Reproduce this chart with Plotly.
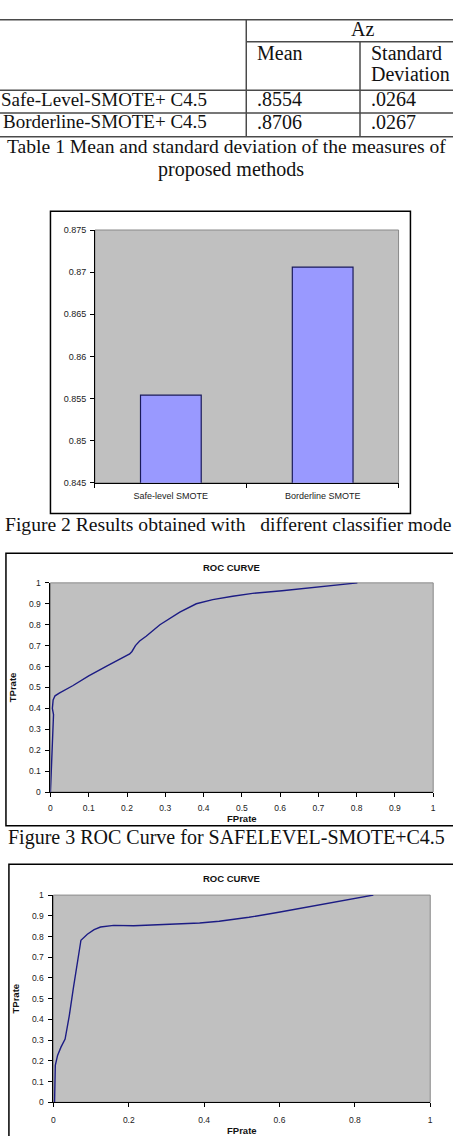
import plotly.graph_objects as go

W, H = 453, 1136

# ---------------- data ----------------
table_rows = ["Safe-Level-SMOTE+ C4.5", "Borderline-SMOTE+ C4.5"]
table_mean = [".8554", ".8706"]
table_std = [".0264", ".0267"]

bar_categories = ["Safe-level SMOTE", "Borderline SMOTE"]
bar_values = [0.8554, 0.8706]
bar_tickvals = [0.845, 0.85, 0.855, 0.86, 0.865, 0.87, 0.875]
bar_ticktext = ["0.845", "0.85", "0.855", "0.86", "0.865", "0.87", "0.875"]

roc1_fpr = [0.0, 0.003, 0.006, 0.008, 0.008, 0.005, 0.007, 0.012, 0.023, 0.058, 0.1, 0.148,
            0.191, 0.207, 0.213, 0.222, 0.233, 0.25, 0.286, 0.338, 0.381, 0.424, 0.476,
            0.528, 0.605, 0.7, 0.802]
roc1_tpr = [0.0, 0.12, 0.27, 0.3, 0.37, 0.4, 0.44, 0.46, 0.473, 0.508, 0.555, 0.603,
            0.646, 0.66, 0.672, 0.7, 0.722, 0.745, 0.8, 0.86, 0.9, 0.92, 0.936,
            0.95, 0.962, 0.98, 1.0]

roc2_fpr = [0.003, 0.005, 0.011, 0.02, 0.031, 0.042, 0.053, 0.062, 0.073, 0.09, 0.108,
            0.125, 0.16, 0.213, 0.3, 0.388, 0.44, 0.519, 0.598, 0.694, 0.79, 0.849]
roc2_tpr = [0.0, 0.178, 0.226, 0.266, 0.305, 0.417, 0.552, 0.663, 0.782, 0.811, 0.833,
            0.846, 0.854, 0.852, 0.858, 0.865, 0.874, 0.893, 0.917, 0.949, 0.979, 1.0]

# ---------------- helpers (layout only) ----------------
def px(x):
    return x / W

def py(y):
    return 1 - y / H

SERIF = "Liberation Serif, Times New Roman, serif"
SANS = "Liberation Sans, Arial, sans-serif"
LINE_COL = "#4a4a4a"
CURVE_COL = "#1c1c84"
BG = "#C0C0C0"

fig = go.Figure()

# bar chart
fig.add_trace(go.Bar(x=bar_categories, y=bar_values, width=0.4,
                     marker=dict(color="#9999FF", line=dict(color="#1a1a5a", width=1.2)),
                     xaxis="x", yaxis="y", showlegend=False))
# ROC 1
fig.add_trace(go.Scatter(x=roc1_fpr, y=roc1_tpr, mode="lines",
                         line=dict(color=CURVE_COL, width=1.4),
                         xaxis="x2", yaxis="y2", showlegend=False))
# ROC 2
fig.add_trace(go.Scatter(x=roc2_fpr, y=roc2_tpr, mode="lines",
                         line=dict(color=CURVE_COL, width=1.4),
                         xaxis="x3", yaxis="y3", showlegend=False))

tickfont = dict(family=SANS, size=8.5, color="#222")
titlefont = dict(family=SANS, size=9.5, color="#111")

def ax(**kw):
    d = dict(showline=True, linecolor="black", linewidth=1, ticks="outside",
             ticklen=4, tickcolor="black", showgrid=False, zeroline=False,
             tickfont=tickfont)
    d.update(kw)
    return d

layout = dict(
    width=W, height=H, margin=dict(l=0, r=0, t=0, b=0),
    paper_bgcolor="white", plot_bgcolor=BG, showlegend=False,
    xaxis=ax(domain=[px(94), px(401)], anchor="y", type="category",
             tickson="boundaries", ticklabelstandoff=4,
             tickfont=dict(family=SANS, size=9, color="#222")),
    yaxis=ax(domain=[py(482), py(227)], anchor="x", range=[0.845, 0.875],
             tickvals=bar_tickvals, ticktext=bar_ticktext, ticklabelstandoff=2,
             tickfont=dict(family=SANS, size=9, color="#222")),
    xaxis2=ax(domain=[px(49), px(436)], anchor="y2", range=[0, 1], dtick=0.1,
              ticklabelstandoff=4,
              title=dict(text="<b>FPrate</b>", font=titlefont, standoff=0)),
    yaxis2=ax(domain=[py(794), py(583)], anchor="x2", range=[0, 1], dtick=0.1,
              ticklabelstandoff=3,
              title=dict(text="<b>TPrate</b>", font=titlefont, standoff=10)),
    xaxis3=ax(domain=[px(52), px(433)], anchor="y3", range=[0, 1], dtick=0.2,
              ticklabelstandoff=6,
              title=dict(text="<b>FPrate</b>", font=titlefont, standoff=4)),
    yaxis3=ax(domain=[py(1107), py(898)], anchor="x3", range=[0, 1], dtick=0.1,
              ticklabelstandoff=3,
              title=dict(text="<b>TPrate</b>", font=titlefont, standoff=10)),
)
fig.update_layout(**layout)

shapes = []
def hline(y, x0, x1):
    shapes.append(dict(type="line", xref="paper", yref="paper", x0=px(x0), x1=px(x1),
                       y0=py(y), y1=py(y), line=dict(color=LINE_COL, width=1.5)))
def vline(x, y0, y1):
    shapes.append(dict(type="line", xref="paper", yref="paper", x0=px(x), x1=px(x),
                       y0=py(y0), y1=py(y1), line=dict(color=LINE_COL, width=1.5)))

# table grid
hline(15, -5, 460)
hline(37, 247, 460)
hline(86, -5, 460)
hline(109, -5, 460)
hline(133, -5, 460)
vline(247, 15, 133)
vline(362, 37, 133)

# chart frames
shapes.append(dict(type="rect", xref="paper", yref="paper", x0=px(49), x1=px(413),
                   y0=py(513), y1=py(208), line=dict(color="black", width=1.5)))
shapes.append(dict(type="rect", xref="paper", yref="paper", x0=px(4), x1=px(470),
                   y0=py(828), y1=py(553), line=dict(color="black", width=1.5)))
shapes.append(dict(type="rect", xref="paper", yref="paper", x0=px(7), x1=px(470),
                   y0=py(1150), y1=py(867), line=dict(color="black", width=1.5)))
# plot-area gray borders
for xr, yr in (("x", "y"), ("x2", "y2"), ("x3", "y3")):
    shapes.append(dict(type="rect", xref=xr + " domain", yref=yr + " domain", x0=0, x1=1,
                       y0=0, y1=1, layer="below", line=dict(color="#888888", width=1)))
fig.update_layout(shapes=shapes)

annots = []
def text(x, y, s, size=20, anchor="center", font=SERIF, color="#111", **kw):
    annots.append(dict(xref="paper", yref="paper", x=px(x), y=py(y), text=s, showarrow=False,
                       xanchor=anchor, yanchor="middle",
                       font=dict(family=font, size=size, color=color), **kw))

# table text
text(365, 24, "Az")
text(256, 48, "Mean", anchor="left")
text(371, 48, "Standard", anchor="left")
text(371, 70, "Deviation", anchor="left")
for i, (r, m, s) in enumerate(zip(table_rows, table_mean, table_std)):
    yy = 95 + i * 23
    text(209, yy, r, anchor="right", size=19)
    text(256, yy, m, anchor="left")
    text(371, yy, s, anchor="left")

text(227, 143, "Table 1 Mean and standard deviation of the measures of", size=19.6)
text(232, 166, "proposed methods")
text(1, 524, "Figure 2 Results obtained with   different classifier mode", anchor="left", size=19.6)
text(227, 840, "Figure 3 ROC Curve for SAFELEVEL-SMOTE+C4.5")

# chart titles
text(232, 567, "<b>ROC CURVE</b>", size=9.5, font=SANS)
text(232, 881, "<b>ROC CURVE</b>", size=9.5, font=SANS)

fig.update_layout(annotations=annots)

fig.write_html("out.html")
